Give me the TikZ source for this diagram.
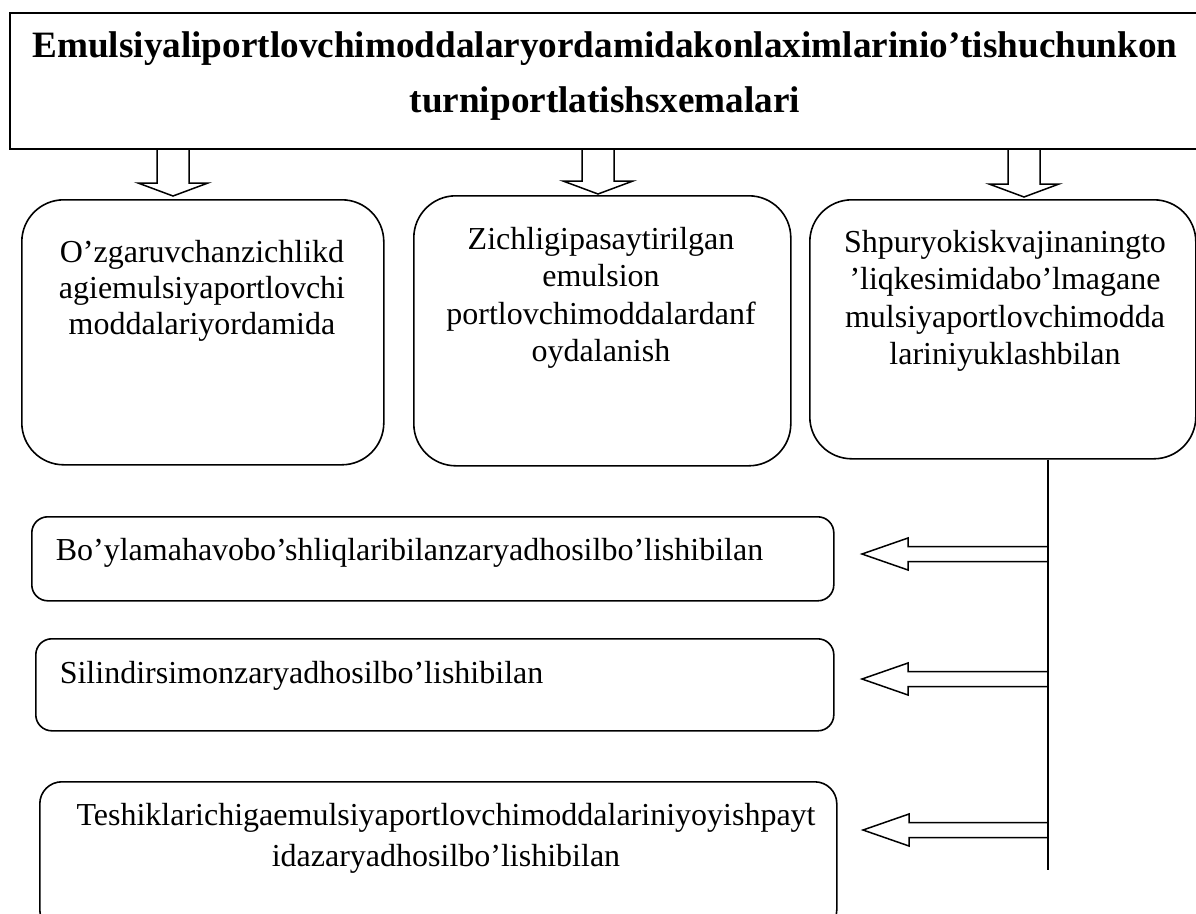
\documentclass[tikz,border=0pt]{standalone}
\usepackage{fontspec}
\setmainfont{Liberation Serif}
\usetikzlibrary{calc}
\newcommand\downblock[2]{\draw[blockarrow] let \p1=(#1), \p2=(#2) in
  (\x1-16pt,\y1) -- (\x1-16pt,\y2+13pt) -- (\x1-35pt,\y2+13pt) -- (\x1,\y2)
  -- (\x1+35pt,\y2+13pt) -- (\x1+16pt,\y2+13pt) -- (\x1+16pt,\y1);}
\newcommand\leftblock[2]{\draw[blockarrow] let \p1=(#1), \p2=(#2) in
  (\x1,\y1+7.5pt) -- (\x2+46pt,\y1+7.5pt) -- (\x2+46pt,\y1+16pt) -- (\x2,\y1)
  -- (\x2+46pt,\y1-16pt) -- (\x2+46pt,\y1-7.5pt) -- (\x1,\y1-7.5pt);}
\begin{document}
\begin{tikzpicture}[x=1pt,y=-1pt,line width=1.6pt,
  bigbox/.style={draw, rectangle, rounded corners=42pt, anchor=north west, inner sep=0pt},
  smallbox/.style={draw, rectangle, rounded corners=16pt, anchor=north west, inner sep=0pt},
  blockarrow/.style={draw, line width=1.5pt, line join=miter},
  txt/.style={font=\fontsize{32}{37.5}\selectfont, align=center, inner sep=0pt, anchor=base},
  ltxt/.style={font=\fontsize{32}{37.5}\selectfont, inner sep=0pt, anchor=base west}]
\useasboundingbox (0,0) rectangle (1196,913);
% title
\node[draw, rectangle, anchor=north west, minimum width=1200pt, minimum height=136pt, inner sep=0pt] (title) at (9,12) {};
\node[font=\bfseries\fontsize{37.2}{55}\selectfont, align=center, inner sep=0pt, anchor=base] (titletext) at (605,112)
  {Emulsiyaliportlovchimoddalaryordamidakonlaximlarinio’tishuchunkon\\turniportlatishsxemalari};
% upper boxes
\node[bigbox, minimum width=362pt, minimum height=265pt] (b1) at (21,199) {};
\node[bigbox, minimum width=377pt, minimum height=270pt] (b2) at (413,195) {};
\node[bigbox, minimum width=386pt, minimum height=259pt] (b3) at (809,199) {};
\node[txt, font=\fontsize{32}{36}\selectfont] (t1) at (202,334) {O’zgaruvchanzichlikd\\agiemulsiyaportlovchi\\moddalariyordamida};
\node[txt] (t2) at (601,361.5) {Zichligipasaytirilgan\\emulsion\\portlovchimoddalardanf\\oydalanish};
\node[txt] (t3) at (1005,364.5) {Shpuryokiskvajinaningto\\’liqkesimidabo’lmagane\\mulsiyaportlovchimodda\\lariniyuklashbilan};
% lower boxes
\node[smallbox, minimum width=802pt, minimum height=84pt] (ba) at (31,516) {};
\node[smallbox, minimum width=798pt, minimum height=92pt] (bb) at (35,638) {};
\node[smallbox, rounded corners=22pt, minimum width=797pt, minimum height=150pt] (bc) at (39,781) {};
\node[ltxt] (ta) at (55,560) {Bo’ylamahavobo’shliqlaribilanzaryadhosilbo’lishibilan};
\node[ltxt] (tb) at (59,683) {Silindirsimonzaryadhosilbo’lishibilan};
\node[txt, font=\fontsize{32}{41}\selectfont] (tc) at (446,866) {Teshiklarichigaemulsiyaportlovchimoddalariniyoyishpayt\\idazaryadhosilbo’lishibilan};
% down arrows
\coordinate (a1s) at (173,148); \coordinate (a1t) at (173,196);
\coordinate (a2s) at (598,148); \coordinate (a2t) at (598,194);
\coordinate (a3s) at (1024,148); \coordinate (a3t) at (1024,197);
\downblock{a1s}{a1t}
\downblock{a2s}{a2t}
\downblock{a3s}{a3t}
% vertical line
\coordinate (vend) at (1048,870);
\draw (b3.south -| vend) -- (vend);
% left arrows
\coordinate (h1s) at (1048,554); \coordinate (h1t) at (862,554);
\coordinate (h2s) at (1048,679); \coordinate (h2t) at (862,679);
\coordinate (h3s) at (1048,830); \coordinate (h3t) at (863,830);
\leftblock{h1s}{h1t}
\leftblock{h2s}{h2t}
\leftblock{h3s}{h3t}
\end{tikzpicture}
\end{document}
